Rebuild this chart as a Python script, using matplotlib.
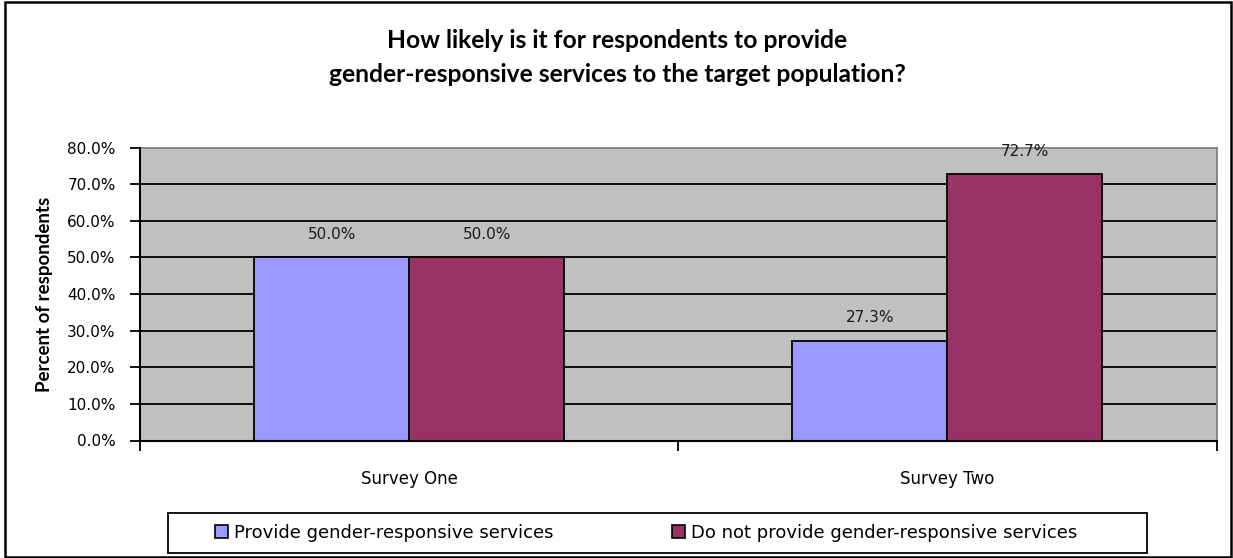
import matplotlib
matplotlib.use("Agg")
import matplotlib.pyplot as plt
from matplotlib.patches import Rectangle, Patch
import numpy as np

# Chart data
categories = ["Survey One", "Survey Two"]
series_names = ["Provide gender-responsive services",
                "Do not provide gender-responsive services"]
provide = [50.0, 27.3]
do_not_provide = [50.0, 72.7]
y_ticks = [0, 10, 20, 30, 40, 50, 60, 70, 80]

colors = ["#9999FF", "#993366"]
W, H = 1233, 558

fig = plt.figure(figsize=(W / 100, H / 100), dpi=100, facecolor="white")

# plot area in pixel coordinates
left, right, top, bottom = 140, 1216.5, 147.5, 440.5
ax = fig.add_axes([left / W, (H - bottom) / H, (right - left) / W, (bottom - top) / H])
ax.set_facecolor("#C0C0C0")

x = np.arange(len(categories))
bw = 0.288
for i, (vals, col, name) in enumerate(zip([provide, do_not_provide], colors, series_names)):
    offs = (i - 0.5) * bw
    ax.bar(x + offs, vals, width=bw, color=col, edgecolor="black",
           linewidth=1.3, zorder=3, label=name)
    for xi, v in zip(x + offs, vals):
        ax.annotate(f"{v:.1f}%", (xi, v), xytext=(0, 11), textcoords="offset points",
                    ha="center", va="bottom", fontsize=11, family="DejaVu Sans",
                    color="#1a1a1a", zorder=4)

ax.set_xlim(-0.5, len(categories) - 0.5)
ax.set_ylim(0, 80)
ax.set_yticks(y_ticks)
ax.set_yticklabels([f"{t:.1f}%" for t in y_ticks], fontsize=11, family="DejaVu Sans")
for t in y_ticks[1:-1]:
    ax.axhline(t, color="black", linewidth=1.3, zorder=2)

# category boundaries carry the tick marks; labels sit at the centres
ax.set_xticks(np.arange(-0.5, len(categories), 1.0))
ax.set_xticklabels([])
ax.set_xticks(x, minor=True)
ax.set_xticklabels(categories, minor=True, fontsize=12, family="DejaVu Sans")
ax.tick_params(axis="x", which="minor", length=0, pad=21)
ax.tick_params(axis="x", which="major", length=7, width=1.3, direction="out")
ax.tick_params(axis="y", length=7, width=1.3, direction="out", pad=10.5)

for s in ["top", "right"]:
    ax.spines[s].set_color("#808080")
    ax.spines[s].set_linewidth(1.3)
for s in ["left", "bottom"]:
    ax.spines[s].set_color("black")
    ax.spines[s].set_linewidth(1.5)
    ax.spines[s].set_zorder(5)

ax.set_ylabel("Percent of respondents", fontsize=13.5, family="Lato",
              fontweight="bold", labelpad=10)

fig.text(617 / W, 1 - 41 / H, "How likely is it for respondents to provide",
         ha="center", va="center", fontsize=17.7, family="Lato", fontweight="bold")
fig.text(617 / W, 1 - 75 / H, "gender-responsive services to the target population?",
         ha="center", va="center", fontsize=17.7, family="Lato", fontweight="bold")

# legend: one entry per series, each anchored at its own position
for name, col, xpix in zip(series_names, colors, [215, 672]):
    h = Patch(facecolor=col, edgecolor="black", linewidth=1.2)
    fig.legend([h], [name], loc="center left", bbox_to_anchor=(xpix / W, 1 - 533 / H),
               frameon=False, prop={"family": "DejaVu Sans", "size": 13},
               handlelength=0.72, handleheight=0.72, handletextpad=0.35,
               borderpad=0, borderaxespad=0)
fig.patches.append(Rectangle((168 / W, 1 - 553 / H), (1147 - 168) / W, 40 / H,
                             transform=fig.transFigure, fill=False,
                             edgecolor="black", linewidth=1.3))
# outer chart border
fig.patches.append(Rectangle((5 / W, 1 / H), (1231 - 5) / W, (556 - 1) / H,
                             transform=fig.transFigure, fill=False,
                             edgecolor="black", linewidth=1.8))

fig.savefig("out.png", dpi=100, facecolor="white")
